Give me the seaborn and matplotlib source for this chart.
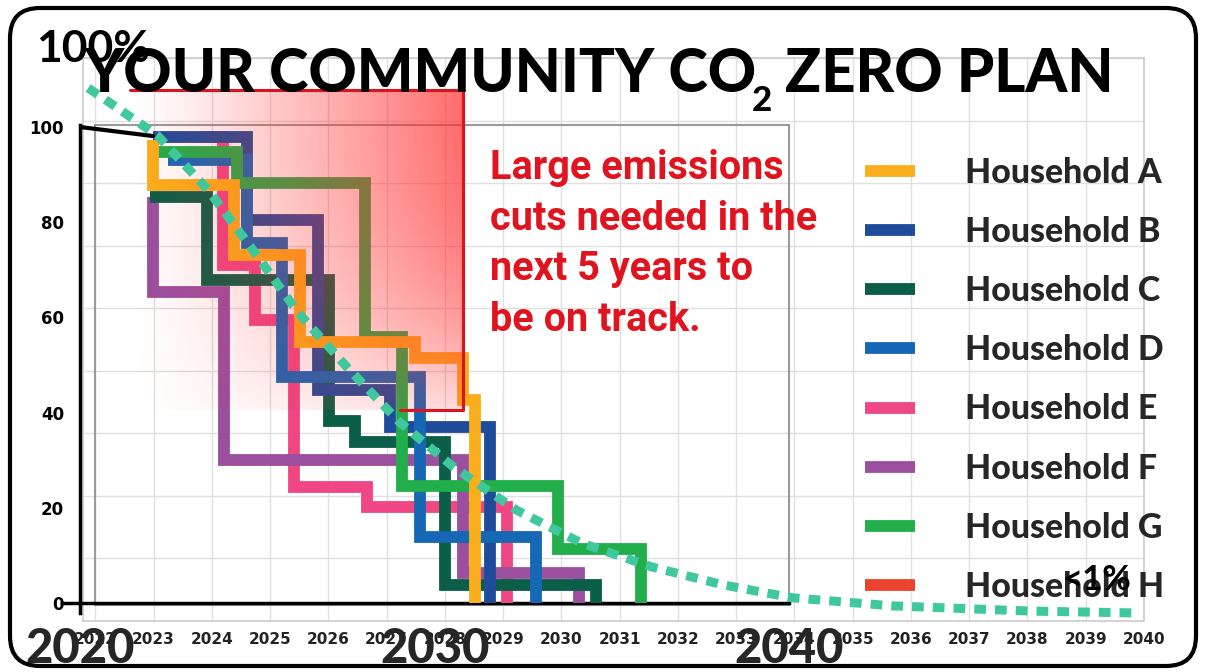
import numpy as np
import pandas as pd
import matplotlib
matplotlib.use("Agg")
import matplotlib.pyplot as plt
import seaborn as sns
from matplotlib.lines import Line2D
from matplotlib.patches import FancyBboxPatch, Rectangle

sns.set_style("white")
plt.rcParams["font.family"] = ["Lato", "DejaVu Sans"]

W, H = 1206, 672

# ---------------- data ----------------
households = ["Household A", "Household B", "Household C", "Household D",
              "Household E", "Household F", "Household G", "Household H"]
colors = {"Household A": "#FBAE1B", "Household B": "#1F4C9A",
          "Household C": "#0B5E48", "Household D": "#1668B5",
          "Household E": "#EE4784", "Household F": "#9B4F9F",
          "Household G": "#22AE4B", "Household H": "#EA4330"}

# step vertices (steps-post): year of each drop, level after the drop
a_x = [2022.06, 2022.06, 2024.34, 2026.20, 2029.44, 2030.79, 2031.15]
a_y = [97.3, 87.8, 73.1, 54.8, 51.5, 42.6, 0.0]
b_x = [2022.06, 2024.70, 2026.70, 2028.73, 2031.55]
b_y = [97.9, 80.5, 44.7, 37.0, 0.0]
c_x = [2021.97, 2023.58, 2027.01, 2027.75, 2030.28, 2034.56]
c_y = [85.3, 67.9, 38.2, 33.8, 3.8, 0.0]
d_x = [2022.48, 2024.70, 2025.69, 2029.58, 2032.87]
d_y = [93.1, 75.6, 47.5, 13.9, 0.0]
e_x = [2023.38, 2024.03, 2024.93, 2026.03, 2028.08, 2032.03]
e_y = [97.9, 71.0, 59.5, 24.4, 20.2, 0.0]
f_x = [2022.06, 2022.06, 2024.06, 2030.79, 2034.08]
f_y = [85.3, 65.3, 30.0, 6.3, 0.0]
g_x = [2022.17, 2024.42, 2028.03, 2029.07, 2033.49, 2035.83]
g_y = [94.7, 88.2, 55.9, 24.6, 11.3, 0.0]
h_x = [2021.41, 2030.79, 2030.79, 2029.01]
h_y = [107.8, 107.8, 40.5, 40.5]

past_x = [2020.0, 2022.06]
past_y = [100.0, 98.1]

target_x = [2020.23, 2022.17, 2023.61, 2024.87, 2026.14, 2027.52, 2029.01, 2030.56,
            2032.31, 2034.14, 2036.11, 2038.14, 2040.08, 2042.90, 2046.82, 2049.86]
target_y = [108.2, 98.3, 86.8, 74.2, 61.1, 49.6, 38.0, 28.4,
            19.5, 12.6, 7.6, 3.8, 1.1, -0.6, -1.7, -2.1]

y_ticks = [0, 10, 20, 30, 40, 50, 60, 70, 80, 90, 100]
y_labels = ["0", "", "20", "", "40", "", "60", "", "80", "", "100"]
big_years = [2020, 2030, 2040]
big_labels = ["2020", "2030", "2040"]
bg_years = list(range(2022, 2041))
bg_labels = [str(y) for y in bg_years]

title_main = "YOUR COMMUNITY CO"
title_sub = "2"
title_end = "ZERO PLAN"
note = "Large emissions\ncuts needed in the\nnext 5 years to\nbe on track."

series = {"Household A": (a_x, a_y), "Household B": (b_x, b_y),
          "Household C": (c_x, c_y), "Household D": (d_x, d_y),
          "Household E": (e_x, e_y), "Household F": (f_x, f_y),
          "Household G": (g_x, g_y)}
draw_order = ["Household E", "Household F", "Household C", "Household B",
              "Household D", "Household G", "Household A"]

rows = []
for hname in draw_order:
    xs, ys = series[hname]
    for i, (x, y) in enumerate(zip(xs, ys)):
        rows.append({"household": hname, "year": x, "level": y, "order": i})
steps = pd.DataFrame(rows)

# ---------------- figure ----------------
fig = plt.figure(figsize=(W / 100, H / 100), dpi=100)


def rect(x0, y0, x1, y1):
    return [x0 / W, 1 - y1 / H, (x1 - x0) / W, (y1 - y0) / H]


# background grid chart
ax_bg = fig.add_axes(rect(83, 58, 1144, 621))
ax_bg.set_xlim(2021.79, 2040)
ax_bg.set_ylim(0, 9)
ax_bg.set_xticks(bg_years)
ax_bg.set_xticklabels(bg_labels, fontsize=11, fontweight="bold",
                      family=["Liberation Sans Narrow", "DejaVu Sans"], color="#222222")
ax_bg.set_yticks(range(10))
ax_bg.set_yticklabels([])
ax_bg.grid(True, color="#e0e0e0", lw=1)
ax_bg.tick_params(length=0, pad=8)
for s in ax_bg.spines.values():
    s.set_color("#cccccc")
    s.set_linewidth(1.2)

# overlay chart
ax = fig.add_axes(rect(80, 8, 1144, 641.08))
ax.patch.set_alpha(0)

ax.add_patch(Rectangle((2020.42, -0.5), 19.58, 100.9, fill=False,
                       ec="#9a9a9a", lw=1.5, zorder=1))

sns.lineplot(data=steps, x="year", y="level", hue="household", hue_order=draw_order,
             palette=colors, estimator=None, sort=False, units="household",
             linewidth=8.5, drawstyle="steps-post", legend=False, ax=ax, zorder=3,
             solid_joinstyle="miter", solid_capstyle="butt")

# red gradient panel
nx, ny = 300, 150
u = np.linspace(0, 1, nx)[None, :]
v = np.linspace(0, 1, ny)[:, None]
alpha = 0.72 * u ** 1.2 * (1 - 0.75 * v ** 2.5)
img = np.zeros((ny, nx, 4))
img[..., 0] = 1.0
img[..., 1] = 0.2
img[..., 2] = 0.2
img[..., 3] = alpha
ax.imshow(img, extent=[h_x[0], h_x[1], h_y[2], h_y[0]], origin="upper",
          aspect="auto", zorder=4, interpolation="bilinear")

sns.lineplot(x=h_x, y=h_y, sort=False, estimator=None, color="#D9141E",
             linewidth=2.2, ax=ax, zorder=4.5)
sns.lineplot(x=past_x, y=past_y, sort=False, estimator=None, color="black",
             linewidth=3, ax=ax, zorder=5)
sns.lineplot(x=target_x, y=target_y, sort=False, estimator=None, color="#3FC79E",
             linewidth=6.5, ax=ax, zorder=6)
ax.lines[-1].set_dashes([1.3, 1.0])
ax.lines[-1].set_dash_capstyle("butt")

ax.set_xlim(2020, 2050)
ax.set_ylim(-8, 125)
ax.set_xlabel("")
ax.set_ylabel("")
for side in ["top", "right"]:
    ax.spines[side].set_visible(False)
ax.spines["left"].set_position(("data", 2020))
ax.spines["left"].set_bounds(-2, 100.5)
ax.spines["bottom"].set_position(("data", 0))
ax.spines["bottom"].set_bounds(2019.5, 2040)
for side in ["left", "bottom"]:
    ax.spines[side].set_linewidth(2.5)
    ax.spines[side].set_color("black")

ax.set_yticks(y_ticks)
ax.set_yticklabels(y_labels, fontsize=12, fontweight="bold", family="DejaVu Sans")
ax.tick_params(axis="y", direction="inout", length=15, width=1.3, pad=4, colors="black")

ax.set_xticks(big_years)
ax.set_xticklabels(big_labels, fontsize=34, fontweight="black", family="Lato")
ax.set_xticks([2022, 2024, 2026, 2028, 2032, 2034, 2036, 2038], minor=True)
ax.tick_params(axis="x", which="major", direction="inout", length=18, width=2.5, pad=8)
ax.tick_params(axis="x", which="minor", direction="inout", length=14, width=1.2)

handles = [Line2D([0], [0], color=colors[hn], lw=8.5, solid_capstyle="butt") for hn in households]
ax.legend(handles, households, loc="upper left",
          bbox_to_anchor=(865 / W, 1 - 157 / H), bbox_transform=fig.transFigure,
          frameon=False, borderpad=0, borderaxespad=0, handlelength=1.47,
          handletextpad=1.47, labelspacing=0.8,
          prop=dict(family="Lato", weight="black", size=24.4))

# texts
fig.text(757 / W, 1 - 92 / H, title_main, ha="right", va="baseline", fontsize=43,
         fontweight="black", family="Lato", color="black")
fig.text(762 / W, 1 - 111 / H, title_sub, ha="center", va="baseline", fontsize=25,
         fontweight="black", family="Lato", color="black")
fig.text(785 / W, 1 - 92 / H, title_end, ha="left", va="baseline", fontsize=43,
         fontweight="black", family="Lato", color="black")
fig.text(36 / W, 1 - 62 / H, "100%", ha="left", va="baseline", fontsize=32,
         fontweight="bold", family="Lato", color="black")
fig.text(1097 / W, 1 - 590 / H, "<1%", ha="center", va="baseline", fontsize=25,
         fontweight="bold", family="Lato", color="black")
fig.text(490 / W, 1 - 149 / H, note, ha="left", va="top", fontsize=28.5,
         fontweight="bold", family="Roboto", color="#E0141E", linespacing=1.42)

frame = FancyBboxPatch((0.10, 0.06), 11.86, 6.58,
                       boxstyle="round,pad=0,rounding_size=0.3",
                       transform=fig.dpi_scale_trans, fill=False, ec="black", lw=3)
fig.add_artist(frame)

fig.savefig("out.png", dpi=100)
